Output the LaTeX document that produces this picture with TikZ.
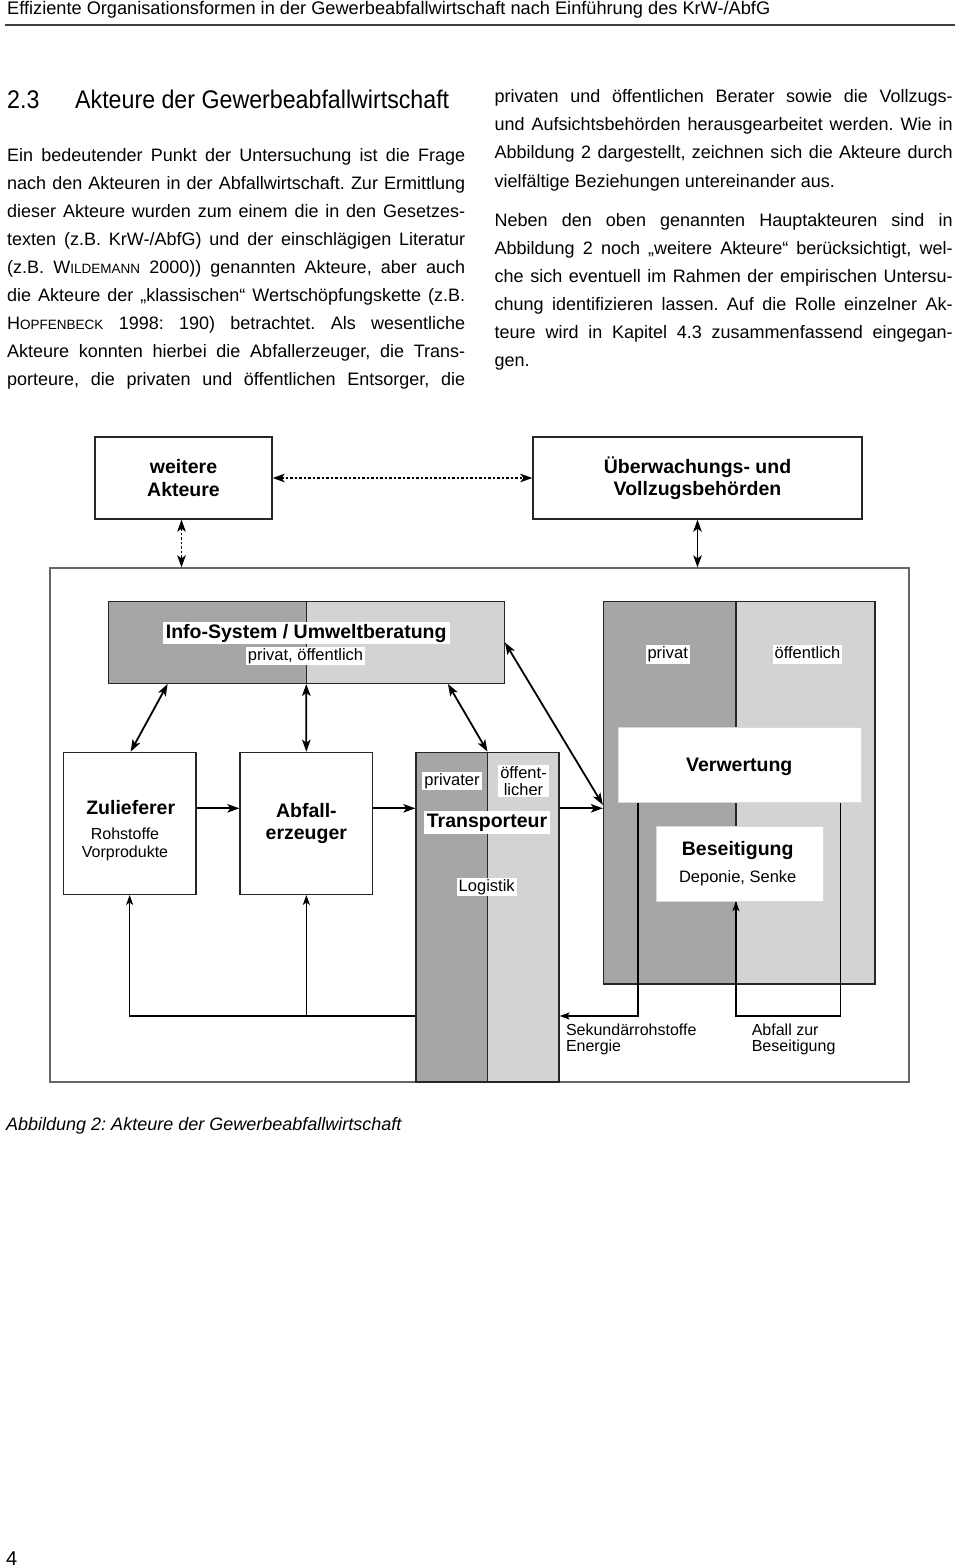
\documentclass[tikz,border=0pt]{standalone}
\usepackage{fontspec}
\setmainfont{Liberation Sans}
\newfontfamily\headfont[FakeStretch=0.91]{Liberation Sans}
\usetikzlibrary{arrows.meta,calc}
\definecolor{gdark}{RGB}{166,166,168}
\definecolor{glight}{RGB}{211,211,214}
\newcommand\myBody{\fontsize{18}{21}\selectfont}
\newcommand\myBold{\fontsize{19.5}{22.5}\selectfont\bfseries}
\newcommand\myLbl{\fontsize{16.5}{17}\selectfont}
\newcommand\myHead{\headfont\fontsize{25.5}{28}\selectfont}
\newcommand\mySC[1]{{\fontsize{13.5}{14}\selectfont #1}}
\newcommand\jl[1]{\makebox[458pt][s]{#1}}
\frenchspacing
\tikzset{
  txt/.style={anchor=base west, inner sep=0pt, font=\myBody},
  box/.style={draw=black!85, line width=1.3pt, fill=white, inner sep=0pt},
  splitbox/.style={path picture={
    \fill[gdark] (path picture bounding box.north west) rectangle ($(path picture bounding box.south west)!#1!(path picture bounding box.south east)$);
    \fill[glight] ($(path picture bounding box.north west)!#1!(path picture bounding box.north east)$) rectangle (path picture bounding box.south east);
    \draw[line width=1.3pt,black!85] ($(path picture bounding box.north west)!#1!(path picture bounding box.north east)$) -- ($(path picture bounding box.south west)!#1!(path picture bounding box.south east)$);}},
  lbl/.style={fill=white, inner xsep=2pt, inner ysep=1.5pt, text height=12pt, text depth=3.6pt, font=\myLbl},
  blbl/.style={fill=white, inner xsep=3pt, inner ysep=2pt, text height=14.3pt, text depth=4pt, font=\myBold},
  dbl/.style={line width=1.8pt, {Stealth[length=12pt,width=8.5pt,inset=3pt]}-{Stealth[length=12pt,width=8.5pt,inset=3pt]}},
  one/.style={line width=1.8pt, -{Stealth[length=12pt,width=8.5pt,inset=3pt]}},
  ret/.style={line width=1.3pt, -{Stealth[length=10pt,width=7pt,inset=2.5pt]}},
  dotarr/.style={line width=1.6pt, dash pattern=on 2.5pt off 2pt, {Stealth[length=12pt,width=8.5pt,inset=3pt]}-{Stealth[length=12pt,width=8.5pt,inset=3pt]}},
}
\begin{document}
\begin{tikzpicture}[x=1pt,y=-1pt]
\useasboundingbox (0,0) rectangle (960,1568);
\fill[white] (0,0) rectangle (960,1568);
% header
\node[anchor=base west, inner sep=0pt, font=\fontsize{18.2}{20}\selectfont] (hdr) at (7,15) {Effiziente Organisationsformen in der Gewerbeabfallwirtschaft nach Einführung des KrW-/AbfG};
\draw[line width=1.5pt, black!75] (5,25) -- (955,25);
\node[anchor=base west, inner sep=0pt, font=\myHead] (h1) at (7,108.3) {2.3};
\node[anchor=base west, inner sep=0pt, font=\myHead] (h2) at (75,108.3) {Akteure der Gewerbeabfallwirtschaft};
% left column
\node[txt] (l1) at (7,161) {\jl{Ein bedeutender Punkt der Untersuchung ist die Frage}};
\node[txt] (l2) at (7,189.1) {\jl{nach den Akteuren in der Abfallwirtschaft. Zur Ermittlung}};
\node[txt] (l3) at (7,217.2) {\jl{dieser Akteure wurden zum einem die in den Gesetzes-}};
\node[txt] (l4) at (7,245.3) {\jl{texten (z.B. KrW-/AbfG) und der einschlägigen Literatur}};
\node[txt] (l5) at (7,273.4) {\jl{(z.B. W\mySC{ILDEMANN} 2000)) genannten Akteure, aber auch}};
\node[txt] (l6) at (7,301.5) {\jl{die Akteure der „klassischen“ Wertschöpfungskette (z.B.}};
\node[txt] (l7) at (7,329.6) {\jl{H\mySC{OPFENBECK} 1998: 190) betrachtet. Als wesentliche}};
\node[txt] (l8) at (7,357.7) {\jl{Akteure konnten hierbei die Abfallerzeuger, die Trans-}};
\node[txt] (l9) at (7,385.8) {\jl{porteure, die privaten und öffentlichen Entsorger, die}};
% right column
\node[txt] (r1) at (494.5,102.7) {\jl{privaten und öffentlichen Berater sowie die Vollzugs-}};
\node[txt] (r2) at (494.5,130.8) {\jl{und Aufsichtsbehörden herausgearbeitet werden. Wie in}};
\node[txt] (r3) at (494.5,158.9) {\jl{Abbildung 2 dargestellt, zeichnen sich die Akteure durch}};
\node[txt] (r4) at (494.5,187) {vielfältige Beziehungen untereinander aus.};
\node[txt] (r5) at (494.5,226) {\jl{Neben den oben genannten Hauptakteuren sind in}};
\node[txt] (r6) at (494.5,254.1) {\jl{Abbildung 2 noch „weitere Akteure“ berücksichtigt, wel-}};
\node[txt] (r7) at (494.5,282.2) {\jl{che sich eventuell im Rahmen der empirischen Untersu-}};
\node[txt] (r8) at (494.5,310.3) {\jl{chung identifizieren lassen. Auf die Rolle einzelner Ak-}};
\node[txt] (r9) at (494.5,338.4) {\jl{teure wird in Kapitel 4.3 zusammenfassend eingegan-}};
\node[txt] (r10) at (494.5,366.5) {gen.};
% diagram
\node[box, draw=black!60, minimum width=859pt, minimum height=514pt] (outer) at (479.5,825) {};
\node[box, minimum width=177pt, minimum height=82pt, align=center, font=\myBold] (wa) at (183.5,478) {weitere\\Akteure};
\node[box, minimum width=329pt, minimum height=82pt, align=center, font=\myBold] (ub) at (697.5,478) {Überwachungs- und\\Vollzugsbehörden};
\draw[dotarr] (wa.east) -- (ub.west);
\draw[dotarr] ([xshift=-2pt]wa.south) -- ([xshift=-2pt]wa.south |- outer.north);
\draw[dbl] (ub.south) -- (ub.south |- outer.north);
% info system
\node[box, splitbox=0.5, minimum width=396pt, minimum height=81.6pt] (info) at (306.3,642.5) {};
\node[blbl] (infot) at (306.2,633) {Info-System / Umweltberatung};
\node[lbl] (infos) at (305.5,656) {privat, öffentlich};
% right group
\node[box, splitbox=0.488, minimum width=271.5pt, minimum height=382.3pt] (rb) at (739.25,792.85) {};
\node[lbl] (rbp) at (667.7,654.5) {privat};
\node[lbl] (rbo) at (807.5,654.5) {öffentlich};
\node[draw=black!15, fill=white, minimum width=242.7pt, minimum height=75.6pt, inner sep=0pt] (vw) at (739.65,764.5) {};
\node[font=\myBold, inner sep=0pt] (vwt) at (739.3,767) {Verwertung};
\node[draw=black!15, fill=white, minimum width=166.7pt, minimum height=75pt, inner sep=0pt] (bs) at (739.35,863.5) {};
\node[font=\myBold, inner sep=0pt] (bst) at (737.7,850.7) {Beseitigung};
\node[font=\myLbl, inner sep=0pt] (bsd) at (737.7,878.7) {Deponie, Senke};
% transporteur
\node[box, splitbox=0.5, minimum width=143pt, minimum height=329.7pt] (tr) at (487.5,917.15) {};
\node[lbl] (trp) at (452,781) {privater};
\node[fill=white, inner xsep=2pt, inner ysep=1.5pt, font=\myLbl, align=center] (tro) at (523.5,781) {öffent-\\licher};
\node[blbl] (trt) at (487,822.5) {Transporteur};
\node[lbl] (trl) at (486.7,887) {Logistik};
% zulieferer, abfallerzeuger
\node[box, minimum width=132.7pt, minimum height=142pt] (zu) at (129.65,823.3) {};
\node[font=\myBold, inner sep=0pt] (zut) at (130.7,807.3) {Zulieferer};
\node[font=\fontsize{16}{17.6}\selectfont, inner sep=0pt, align=center] (zus) at (125,844.5) {Rohstoffe\\Vorprodukte};
\node[box, minimum width=132.7pt, minimum height=142pt, align=center, font=\myBold] (ae) at (306.35,823.3) {Abfall-\\erzeuger};
% bottom labels
\node[font=\fontsize{16}{16}\selectfont, align=left, anchor=west, inner sep=0pt] (sek) at (565.8,1039.7) {Sekundärrohstoffe\\Energie};
\node[font=\fontsize{16}{16}\selectfont, align=left, anchor=west, inner sep=0pt] (abz) at (751.6,1039.7) {Abfall zur\\Beseitigung};
% connectors
\draw[dbl] ([xshift=60pt]info.south west) -- ([xshift=1pt]zu.north);
\draw[dbl] (info.south) -- (ae.north);
\draw[dbl] ([xshift=-57pt]info.south east) -- (tr.north);
\draw[dbl] (info.east) -- ([yshift=-12pt]rb.west);
\coordinate (flow) at ([yshift=15pt]zu.east);
\draw[one] (flow) -- (flow -| ae.west);
\draw[one] (flow -| ae.east) -- (flow -| tr.west);
\draw[one] (flow -| tr.east) -- (flow -| rb.west);
\coordinate (retl) at (0,1016);
\draw[ret] (tr.west |- retl) -| (zu.south);
\draw[ret] (ae.south |- retl) -- (ae.south);
\coordinate (s1) at ([xshift=20pt]vw.south west);
\coordinate (s2) at ([xshift=-21pt]vw.south east);
\draw[ret] (s1) |- (tr.east |- retl);
\draw[ret] (s2) |- ([xshift=-3.4pt]bs.south |- retl) -- ([xshift=-3.4pt]bs.south);
% caption
\node[anchor=base west, inner sep=0pt, font=\myBody\itshape] (cap) at (6,1130.7) {Abbildung 2: Akteure der Gewerbeabfallwirtschaft};
\node[anchor=base west, inner sep=0pt, font=\fontsize{20}{22}\selectfont] (pg) at (6,1565) {4};
\end{tikzpicture}
\end{document}
